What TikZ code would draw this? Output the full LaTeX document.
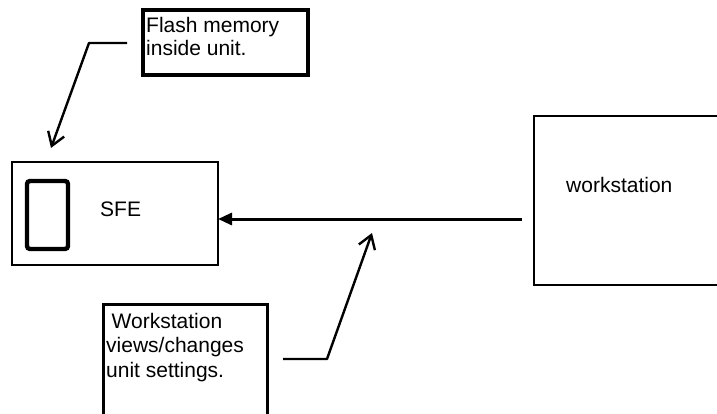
\documentclass[tikz,border=0pt]{standalone}
\usepackage{fontspec}
\setmainfont{Liberation Sans}
\usetikzlibrary{arrows.meta}
\begin{document}
\begin{tikzpicture}[x=1pt,y=-1pt,
        thinbox/.style={draw,line width=2pt,outer sep=0pt,inner sep=0pt,anchor=north west},
        thickbox/.style={draw,line width=3.2pt,outer sep=0pt,inner sep=0pt,anchor=north west},
        txt/.style={inner sep=0pt,align=left,font=\fontsize{21}{23}\selectfont},
        callout/.style={line width=2.4pt,line join=round,-{Straight Barb[length=13pt,width=17pt]}},
        link/.style={line width=3pt,-{Triangle[length=14pt,width=12pt]}}]
        \useasboundingbox (0,0) rectangle (717,414);
        \clip (0,0) rectangle (717,414);
        % boxes
        \node[thickbox,minimum width=165pt,minimum height=65pt] (flash) at (143,10) {};
        \node[txt,anchor=north west] (flashtxt) at (146,17) {Flash memory\\inside unit.};
        \node[thinbox,minimum width=206pt,minimum height=103pt] (sfe) at (12,162) {};
        \node[draw,line width=4.4pt,rounded corners=3pt,outer sep=0pt,anchor=north west,
              minimum width=41pt,minimum height=68pt] (mem) at (27,181) {};
        \node[txt,anchor=base west] (sfetxt) at (100,216) {SFE};
        \node[thinbox,minimum width=250pt,minimum height=169pt] (ws) at (534,116) {};
        \node[txt,anchor=base west] (wstxt) at (566,193) {workstation};
        \node[thickbox,minimum width=164pt,minimum height=150pt] (note) at (103.5,304.5) {};
        \node[txt,font=\fontsize{21}{24.5}\selectfont,anchor=north west] (notetxt) at (106,313)
            {\hspace*{5.5pt}Workstation\\views/changes\\unit settings.};
        % connectors
        \coordinate (a1) at (522,219);
        \draw[link] (a1) -- (a1 -| sfe.east);
        \coordinate (f1) at (127,43);
        \coordinate (f2) at (89,43);
        \coordinate (f3) at (51,148);
        \draw[callout] (f1) -- (f2) -- (f3);
        \coordinate (n1) at (283,359);
        \coordinate (n2) at (327,359);
        \coordinate (n3) at (372,233);
        \draw[callout] (n1) -- (n2) -- (n3);
    \end{tikzpicture}
\end{document}
